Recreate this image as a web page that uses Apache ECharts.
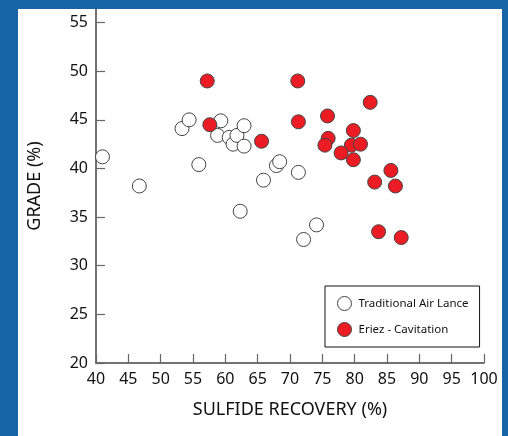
<!DOCTYPE html>
<html>
<head>
<meta charset="utf-8">
<script src="https://cdn.jsdelivr.net/npm/echarts@6/dist/echarts.min.js"></script>
<style>
  html, body { margin: 0; padding: 0; background: #1764a6; }
  #chart { width: 508px; height: 436px; }
</style>
</head>
<body>
<div id="chart"></div>
<script>
// [sulfide recovery %, grade %]
const airLance = [
  [41.0, 41.2], [46.7, 38.2], [53.3, 44.1], [54.4, 45.0], [55.9, 40.4],
  [58.8, 43.4], [59.3, 44.9], [60.6, 43.2], [61.2, 42.5], [61.8, 43.4],
  [62.9, 44.4], [62.9, 42.3], [62.3, 35.6], [65.9, 38.8], [67.9, 40.3],
  [68.4, 40.7], [71.3, 39.6], [74.1, 34.2], [72.1, 32.7]
]
const cavitation = [
  [57.2, 49.0], [57.6, 44.5], [65.6, 42.8], [71.2, 49.0], [71.3, 44.8],
  [82.4, 46.8], [75.8, 45.4], [79.8, 43.9], [75.9, 43.1], [75.4, 42.4],
  [79.5, 42.4], [80.9, 42.5], [77.9, 41.6], [79.8, 40.9], [85.6, 39.8],
  [83.1, 38.6], [86.3, 38.2], [83.7, 33.5], [87.2, 32.9]
]
const yTicks = [20, 25, 30, 35, 40, 45, 50, 55]
const seriesNames = ['Traditional Air Lance', 'Eriez - Cavitation']

const font = 'Noto Sans'
const axisColor = '#444'
const textColor = '#111'

const chart = echarts.init(document.getElementById('chart'))

chart.setOption({
  backgroundColor: '#1764a6',
  textStyle: { fontFamily: font },
  animation: false,
  graphic: [{
    type: 'rect',
    z: -10,
    shape: { x: 18, y: 9, width: 484, height: 427 },
    style: { fill: '#fff' }
  }],
  grid: {
    left: 96,
    right: 24,
    top: 9,
    bottom: 73
  },
  legend: {
    orient: 'vertical',
    left: 325,
    top: 286,
    padding: [10, 11, 10, 12],
    itemGap: 11,
    itemWidth: 14,
    itemHeight: 14,
    borderColor: '#111',
    borderWidth: 1,
    backgroundColor: '#fff',
    icon: 'circle',
    itemStyle: { borderWidth: 1, borderColor: '#444' },
    textStyle: { fontSize: 11.5, color: textColor, fontFamily: font, padding: [0, 0, 0, 2] },
    data: seriesNames
  },
  xAxis: {
    type: 'value',
    min: 40,
    max: 100,
    interval: 5,
    name: 'SULFIDE RECOVERY (%)',
    nameLocation: 'middle',
    nameGap: 38,
    nameTextStyle: { fontSize: 18, color: textColor, fontFamily: font },
    axisLine: { lineStyle: { color: axisColor, width: 1.5 } },
    axisTick: { inside: true, length: 9, lineStyle: { color: '#666', width: 1.2 } },
    axisLabel: { fontSize: 16, color: textColor, margin: 8, fontFamily: font },
    splitLine: { show: false }
  },
  yAxis: {
    type: 'value',
    min: 20,
    max: 56.4,
    name: 'GRADE (%)',
    nameLocation: 'middle',
    nameGap: 52,
    nameTextStyle: { fontSize: 18, color: textColor, fontFamily: font },
    axisLine: { show: true, lineStyle: { color: axisColor, width: 1.5 } },
    axisTick: { show: true, inside: true, length: 9, customValues: yTicks, lineStyle: { color: '#666', width: 1.2 } },
    axisLabel: { fontSize: 16, color: textColor, margin: 8, customValues: yTicks, fontFamily: font },
    splitLine: { show: false }
  },
  series: [
    {
      name: seriesNames[0],
      type: 'scatter',
      symbol: 'circle',
      symbolSize: 14,
      itemStyle: { color: '#fff', borderColor: '#444', borderWidth: 1, opacity: 1 },
      data: airLance
    },
    {
      name: seriesNames[1],
      type: 'scatter',
      symbol: 'circle',
      symbolSize: 14,
      itemStyle: { color: '#ec1c24', borderColor: '#444', borderWidth: 1, opacity: 1 },
      data: cavitation
    }
  ]
})
</script>
</body>
</html>
